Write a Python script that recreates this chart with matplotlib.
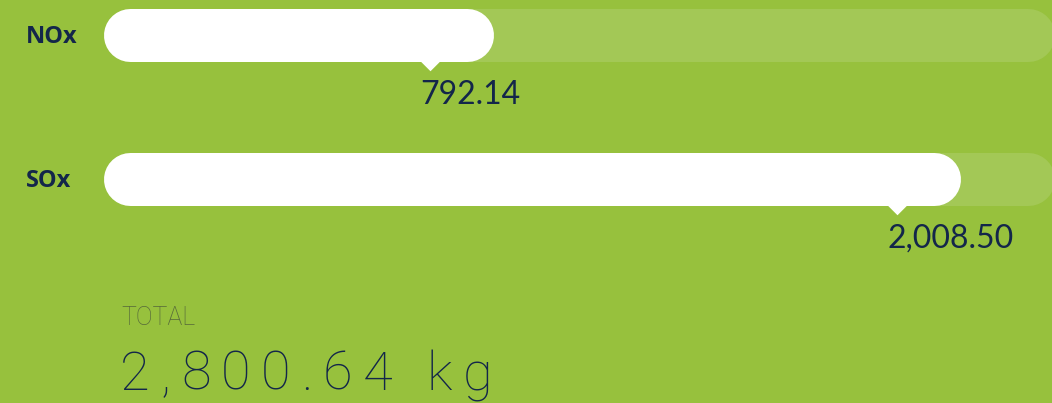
import matplotlib
matplotlib.use("Agg")
import matplotlib.pyplot as plt

# emissions per pollutant, kg
pollutants = ["NOx", "SOx"]
emissions = [792.14, 2008.50]
value_labels = ["792.14", "2,008.50"]
total_label = "TOTAL"
total_text = "2,800.64 kg"
scale_max = 2350

BG = "#97c13d"
TRACK = "#a3c856"
NAVY = "#13264a"
GREY = "#56693a"

W, H, DPI = 1052, 403, 100
fig = plt.figure(figsize=(W / DPI, H / DPI), dpi=DPI, facecolor=BG)
ax = fig.add_axes([0, 0, 1, 1])
ax.set_facecolor(BG)
ax.axis("off")

# 0 kg sits at x=126px, 0.384 px per kg; rows 144px apart starting at y=34.5px
px0, kpx = 126.0, 0.384
ax.set_xlim(-px0 / kpx, (W - px0) / kpx)
ax.set_ylim((H - 34.5) / 144.0, -34.5 / 144.0)

bar_px = 53
lw = bar_px * 72 / DPI
start = 10
pad = 95  # white bar runs a little past the pointer

tri = [(-1, 0), (1, 0), (0, -1)]

for i, (name, v, lab) in enumerate(zip(pollutants, emissions, value_labels)):
    ax.plot([start, scale_max], [i, i], color=TRACK, lw=lw, solid_capstyle="round")
    ax.plot([start, v + pad], [i, i], color="white", lw=lw, solid_capstyle="round")
    ax.plot(v, i + 25 / 144, marker=tri, markersize=15.5, color="white",
            markeredgewidth=0, linestyle="none")
    ax.text(-px0 / kpx + 26 / kpx, i + 2 / 144, name, fontsize=17, fontweight="bold",
            color=NAVY, family="Open Sans", va="center", ha="left")
    ax.text(v - 10 / kpx, i + 60 / 144, lab, fontsize=23, color=NAVY,
            family="Lato", va="center", ha="left")

fig.text(121 / W, 1 - 318 / H, total_label, fontsize=18, color=GREY,
         family="Roboto", fontweight="light", va="center", ha="left")

# big total, drawn char by char to get the wide tracking
renderer = fig.canvas.get_renderer()
x = 120.0
for ch in total_text:
    t = fig.text(x / W, 1 - 390 / H, ch, fontsize=39, color=NAVY,
                 family="Roboto", fontweight="light", va="baseline", ha="left")
    w = t.get_window_extent(renderer).width
    if ch == " ":
        w = 13
    x += w + 10.5

fig.savefig("out.png", dpi=DPI, facecolor=BG)
